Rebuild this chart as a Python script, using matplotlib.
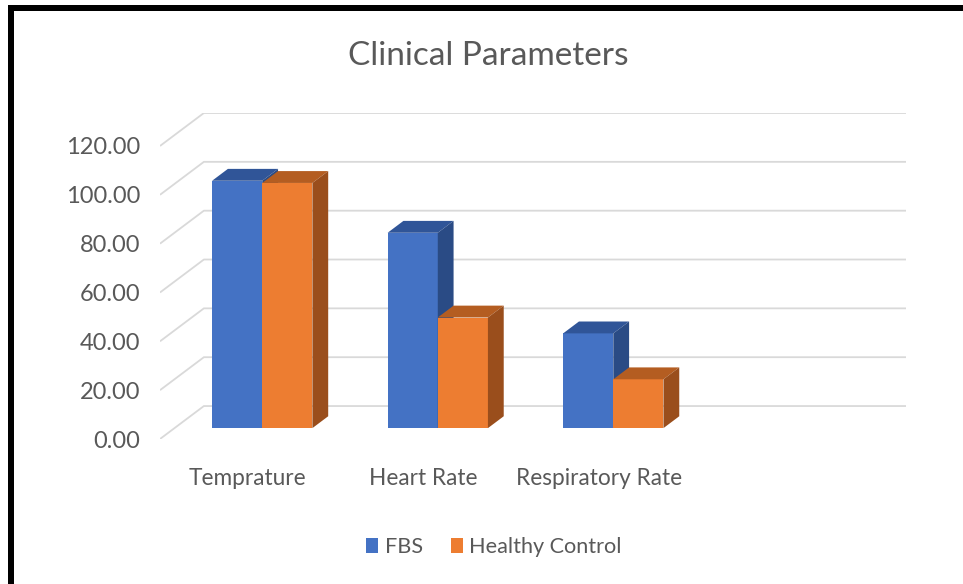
import matplotlib.pyplot as plt
from matplotlib.patches import Polygon, Rectangle, Patch

plt.rcParams['font.family'] = ['Lato', 'DejaVu Sans']

categories = ["Temprature", "Heart Rate", "Respiratory Rate"]
series_names = ["FBS", "Healthy Control"]
fbs = [101.3, 80.0, 38.8]
healthy = [100.4, 45.3, 20.0]
y_ticks = [0, 20, 40, 60, 80, 100, 120]

N_SLOTS = 4            # Excel left an empty 4th category slot
DX, DY = 0.25, 13.5    # depth of the 3D box in data units
F0, FD = 0.33, 0.36    # bar position / thickness along depth (fraction)
BW = 1 / 3.5           # gap width 150%

FRONT = ["#4472C4", "#ED7D31"]
TOP = ["#305598", "#B45D21"]
SIDE = ["#2A4B85", "#9A4E1C"]
GRID = "#D9D9D9"
TXT = "#595959"

W, H = 963, 584
fig = plt.figure(figsize=(W / 100, H / 100), dpi=100)
ax = fig.add_axes([160 / W, (H - 439) / H, 746 / W, 326 / H])
ax.set_xlim(0, N_SLOTS + DX)
ax.set_ylim(0, y_ticks[-1] + DY)
for s in ax.spines.values():
    s.set_visible(False)

# walls: diagonal on the side wall, horizontal on the back wall
for v in y_ticks:
    ax.plot([0, DX, N_SLOTS + DX], [v, v + DY, v + DY], color=GRID, lw=1.3,
            zorder=1, solid_capstyle="butt")

for i in range(len(categories)):
    for j, vals in enumerate([fbs, healthy]):
        v = vals[i]
        x0 = i + 0.5 - BW + j * BW + F0 * DX
        y0 = F0 * DY
        ddx, ddy = FD * DX, FD * DY
        ax.add_patch(Rectangle((x0, y0), BW, v, facecolor=FRONT[j],
                               edgecolor="none", zorder=3 + j))
        ax.add_patch(Polygon([(x0, y0 + v), (x0 + BW, y0 + v),
                              (x0 + BW + ddx, y0 + v + ddy), (x0 + ddx, y0 + v + ddy)],
                             closed=True, facecolor=TOP[j], edgecolor="none", zorder=3 + j))
        ax.add_patch(Polygon([(x0 + BW, y0), (x0 + BW + ddx, y0 + ddy),
                              (x0 + BW + ddx, y0 + v + ddy), (x0 + BW, y0 + v)],
                             closed=True, facecolor=SIDE[j], edgecolor="none", zorder=3 + j))

ax.set_yticks(y_ticks)
ax.set_yticklabels([f"{v:.2f}" for v in y_ticks], fontsize=17, color=TXT)
ax.set_xticks([i + 0.5 for i in range(len(categories))])
ax.set_xticklabels(categories, fontsize=16.3, color=TXT)
ax.tick_params(axis="y", length=0, pad=14)
ax.tick_params(axis="x", length=0, pad=21)

fig.text(488 / W, 1 - 56 / H, "Clinical Parameters", ha="center", va="center",
         fontsize=24, color=TXT)

handles = [Patch(facecolor=c, edgecolor="none") for c in FRONT]
fig.legend(handles, series_names, loc="center", bbox_to_anchor=(494 / W, 1 - 547 / H),
           ncol=2, frameon=False, fontsize=15.6, labelcolor=TXT,
           handlelength=0.55, handleheight=0.65, handletextpad=0.3, columnspacing=1.3)

# black frame of the screenshot (top and left only)
fig.add_artist(Rectangle((8 / W, 1 - 11 / H), 1, 6 / H, transform=fig.transFigure,
                         facecolor="black", edgecolor="none"))
fig.add_artist(Rectangle((8 / W, 0), 6 / W, 1 - 5 / H, transform=fig.transFigure,
                         facecolor="black", edgecolor="none"))

fig.savefig("out.png", dpi=100)
